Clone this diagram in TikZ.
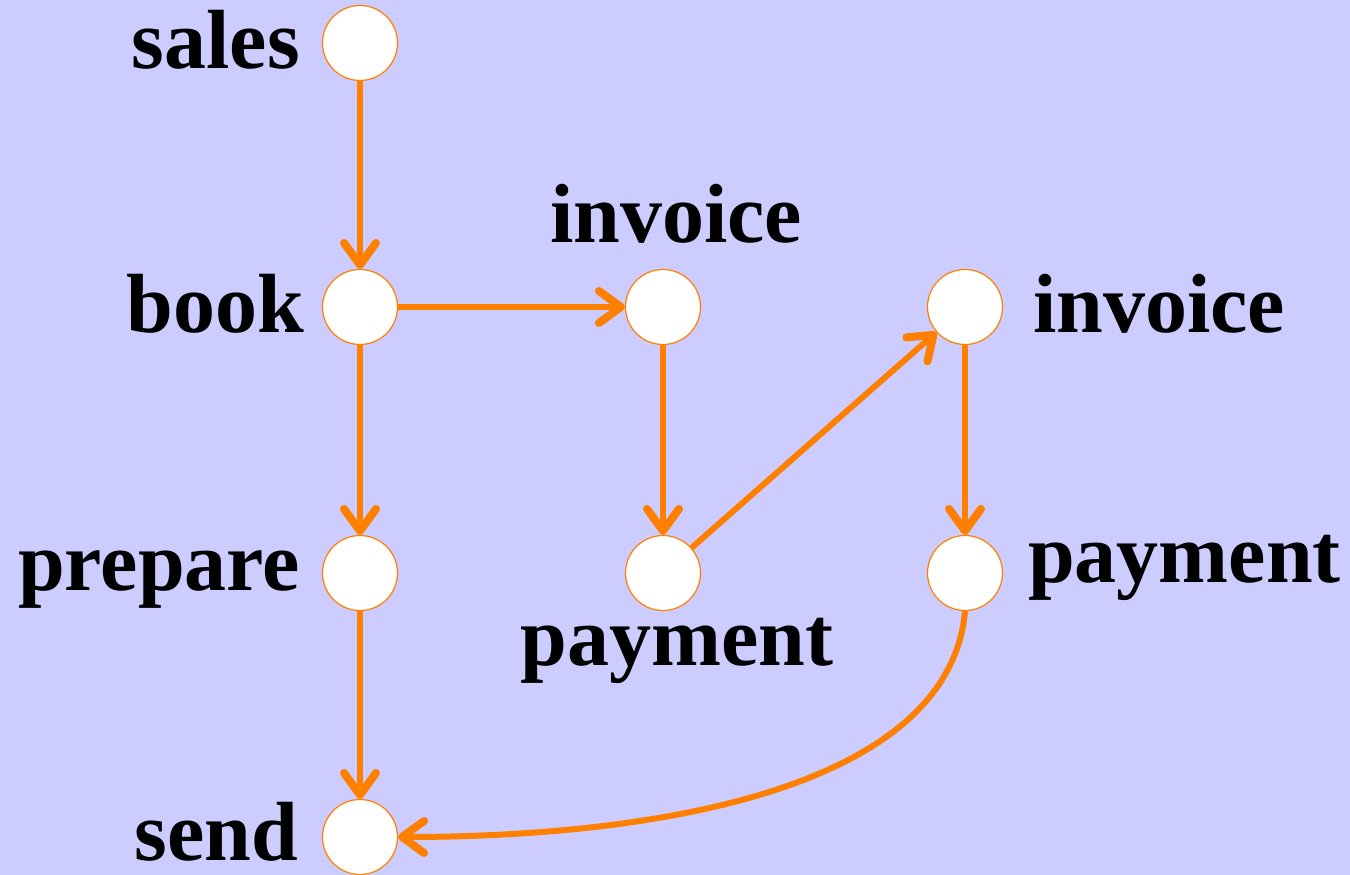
\documentclass[tikz,border=0pt]{standalone}
\usepackage{fontspec}
\setmainfont{Liberation Serif}
\usetikzlibrary{arrows.meta}
\definecolor{bg}{HTML}{CCCCFF}
\definecolor{org}{HTML}{FF8000}
\begin{document}
\begin{tikzpicture}[x=1pt,y=-1pt,
  st/.style={circle,draw=org,line width=1.2pt,fill=white,minimum size=75pt,inner sep=0pt},
  lab/.style={font=\fontsize{84}{96}\selectfont\bfseries,inner sep=0pt},
  conn/.style={draw=org,line width=6pt,-{Straight Barb[length=22pt,width=32pt,line width=8pt,line cap=round,line join=round]}}]
\fill[bg] (0,0) rectangle (1350,875);
\useasboundingbox (0,0) rectangle (1350,875);
\node[st] (sales) at (360,43) {};
\node[st] (book) at (360,307) {};
\node[st] (prep) at (360,573) {};
\node[st] (send) at (360,837) {};
\node[st] (inv1) at (663,307) {};
\node[st] (pay1) at (663,573) {};
\node[st] (inv2) at (965,307) {};
\node[st] (pay2) at (965,573) {};
\node[lab,anchor=base east] (lsales) at (300,69) {sales};
\node[lab,anchor=base east] (lbook) at (304,332) {book};
\node[lab,anchor=base east] (lprep) at (300,590) {prepare};
\node[lab,anchor=base east] (lsend) at (298,860) {send};
\node[lab,anchor=base] (linv1) at (676,242) {invoice};
\node[lab,anchor=base west] (linv2) at (1033,332) {invoice};
\node[lab,anchor=base] (lpay1) at (677,665) {payment};
\node[lab,anchor=base west] (lpay2) at (1028,582) {payment};
\path[conn] (sales) -- (book);
\path[conn] (book) -- (inv1);
\path[conn] (book) -- (prep);
\path[conn] (prep) -- (send);
\path[conn] (inv1) -- (pay1);
\path[conn] (pay1) -- (inv2);
\path[conn] (inv2) -- (pay2);
\path[conn] (pay2.south) .. controls +(-15,170) and +(280,0) .. (send.east);
\end{tikzpicture}
\end{document}
